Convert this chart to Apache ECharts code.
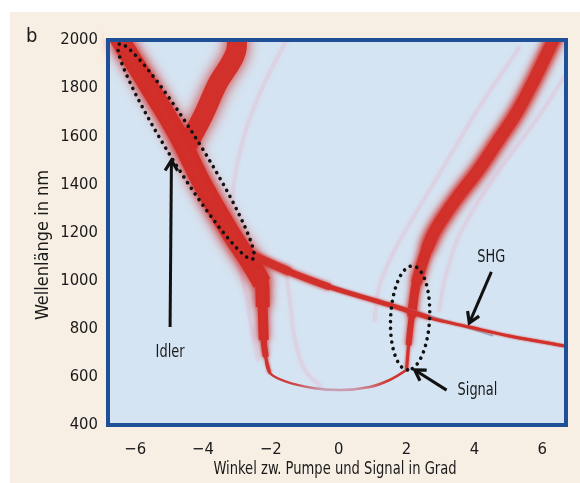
<!DOCTYPE html>
<html><head><meta charset="utf-8">
<script src="https://cdn.jsdelivr.net/npm/echarts@6/dist/echarts.min.js"></script>
<style>html,body{margin:0;padding:0;background:#fff}#c{width:580px;height:483px}</style>
</head><body><div id="c"></div>
<script>
// ---- data ----
const xTicks = [-6, -4, -2, 0, 2, 4, 6];
const yTicks = [400, 600, 800, 1000, 1200, 1400, 1600, 1800, 2000];

// Idler band: main diagonal part, then the vertical branch going down [angle deg, wavelength nm]
const idlerBand = [[-6.5,2012],[-5.62,1813],[-4.74,1605],[-4.0,1397],[-3.15,1190],[-2.62,1077],[-2.26,990],[-2.24,890],[-2.21,753],[-2.15,683],[-2.03,616]];
// Upper idler branch merging into the main one
const idlerUpper = [[-3.0,2042],[-3.0,1979],[-3.59,1813],[-4.03,1676],[-4.38,1584],[-4.56,1543]];
// Bottom loop joining the idler branch to the signal branch
const bottomLoop = [[-2.15,683],[-2.03,616],[-1.53,579],[-0.76,554],[0.03,545],[0.91,558],[1.5,587],[2.0,629]];
// Signal band (right), from bottom upwards
const signalBand = [[2.0,629],[2.06,732],[2.15,849],[2.29,990],[2.59,1127],[2.85,1210],[3.44,1335],[4.12,1460],[4.71,1584],[5.24,1697],[5.76,1834],[6.29,1988],[6.56,2062]];
// Thin crossing branch (idler split -> right edge)
const crossBranch = [[-2.56,1106],[-1.44,1036],[-0.26,973],[1.5,899],[2.68,845],[3.85,807],[5.03,770],[6.68,728],[7.0,720]];
// SHG line (grey)
const shgLine = [[-1.15,1023],[1.0,925],[2.5,862],[4.53,772]];
// Faint ghost curves
const ghostA = [[-1.53,2000],[-2.24,1805],[-2.71,1638],[-3.0,1480],[-3.15,1323],[-3.21,1156]];
const ghostB = [[5.32,1967],[4.15,1722],[3.12,1480],[2.24,1273],[1.65,1127],[1.21,982],[1.06,836]];
const ghostC = [[6.68,1854],[5.82,1667],[4.53,1418],[3.56,1190],[3.12,1003],[2.97,878]];
const ghostD = [[-1.59,1065],[-1.44,919],[-1.29,753],[-1.0,629],[-0.56,566]];
const ghostE = [[-3.06,1127],[-2.76,961],[-2.56,795],[-2.38,670]];

// ---- annotations ----
const labels = [
  {text: 'Idler', at: [-4.97, 703]},
  {text: 'SHG', at: [4.5, 1098]},
  {text: 'Signal', at: [4.09, 545]}
];
const arrows = [
  {from: [-4.97, 807], to: [-4.93, 1500]},
  {from: [4.5, 1036], to: [3.85, 824]},
  {from: [3.18, 545], to: [2.24, 629]}
];
const ellipses = [
  {from: [-6.47, 1983], to: [-2.53, 1090], half: 15.5},
  {from: [2.18, 1061], to: [2.03, 629], half: 19.5}
];

const FONT = "'DejaVu Sans Condensed','DejaVu Sans',sans-serif";
const RED = '#d2302b';
const CREAM = '#f8efe4';

const chart = echarts.init(document.getElementById('c'), null, {renderer: 'canvas'});

function line(data, width, color, blur, z, cap) {
  return {
    type: 'line', data: data, showSymbol: false, symbol: 'none', smooth: 0.35, silent: true,
    z: z || 2, animation: false,
    lineStyle: {width: width, color: color, cap: cap || 'butt', join: 'round',
      shadowBlur: blur || 0, shadowColor: typeof color === 'string' ? color : RED}
  };
}
const GHOST = 'rgba(222,202,222,0.6)';
const loopGrad = new echarts.graphic.LinearGradient(0, 0, 1, 0, [
  {offset: 0, color: RED}, {offset: 0.22, color: '#cf4545'},
  {offset: 0.42, color: 'rgba(196,150,172,0.85)'}, {offset: 0.62, color: 'rgba(200,140,160,0.85)'},
  {offset: 0.85, color: '#cf3b36'}, {offset: 1, color: RED}
]);

const series = [
  line(ghostA, 4, GHOST, 4, 1, 'round'), line(ghostB, 4, GHOST, 4, 1, 'round'), line(ghostC, 4, GHOST, 4, 1, 'round'),
  line(ghostD, 4, GHOST, 4, 1, 'round'), line(ghostE, 4, GHOST, 4, 1, 'round'),
  // upper idler branch
  line(idlerUpper, 20, RED, 14, 2),
  // idler band + vertical branch (tapering)
  line(idlerBand.slice(0, 7), 19, RED, 14, 3), line(idlerBand.slice(0, 8), 14, RED, 11, 3),
  line(idlerBand.slice(0, 9), 10, RED, 8, 3), line(idlerBand.slice(0, 10), 6, RED, 5, 3), line(idlerBand, 3, RED, 3, 3),
  line(bottomLoop, 2.5, loopGrad, 0, 3),
  // signal band (tapering downwards)
  line(signalBand, 3, RED, 3, 3), line(signalBand.slice(1), 6, RED, 5, 3), line(signalBand.slice(2), 9, RED, 7, 3),
  line(signalBand.slice(3), 11, RED, 9, 3), line(signalBand.slice(4), 12, RED, 11, 3),
  // SHG and crossing branch
  line(shgLine, 2, 'rgba(150,165,185,0.85)', 0, 4, 'round'),
  line(crossBranch, 3, RED, 2, 5), line(crossBranch.slice(0, 5), 4.5, RED, 3, 5),
  line(crossBranch.slice(0, 3), 6.5, RED, 4, 5), line(crossBranch.slice(0, 2), 8, RED, 5, 5)
];

chart.setOption({
  backgroundColor: '#ffffff',
  animation: false,
  grid: {left: 108, right: 14, top: 40, bottom: 58, show: true, backgroundColor: '#d5e4f2', borderWidth: 0, z: 0},
  xAxis: {type: 'value', min: -6.8, max: 6.7,
    axisLine: {show: false}, axisTick: {show: false}, splitLine: {show: false},
    axisLabel: {customValues: xTicks, fontSize: 16.5, color: '#1a1a1a', fontFamily: FONT, margin: 16,
      formatter: v => v < 0 ? '\u2212' + Math.abs(v) : String(v)}},
  yAxis: {type: 'value', min: yTicks[0], max: yTicks[yTicks.length - 1], interval: 200,
    axisLine: {show: false}, axisTick: {show: false}, splitLine: {show: false},
    axisLabel: {fontSize: 16.5, color: '#1a1a1a', fontFamily: FONT, margin: 10, formatter: v => String(v)}},
  series: series
});

function px(p) { return chart.convertToPixel({gridIndex: 0}, p); }
const g = [];
g.push({type: 'rect', z: -10, silent: true, shape: {x: 10, y: 12, width: 570, height: 471}, style: {fill: CREAM}});
// cream masks outside the frame (bands are drawn slightly past the plot edge)
g.push({type: 'rect', z: 90, silent: true, shape: {x: 104, y: 12, width: 476, height: 27}, style: {fill: CREAM}});
g.push({type: 'rect', z: 90, silent: true, shape: {x: 567, y: 12, width: 13, height: 471}, style: {fill: CREAM}});
g.push({type: 'rect', z: 90, silent: true, shape: {x: 0, y: 0, width: 580, height: 12}, style: {fill: '#ffffff'}});
g.push({type: 'rect', z: 100, silent: true, shape: {x: 108, y: 40, width: 458, height: 385}, style: {fill: 'none', stroke: '#1f4f97', lineWidth: 4}});
g.push({type: 'text', z: 10, style: {text: 'b', x: 26, y: 47, fontSize: 20, fontFamily: FONT, fill: '#1a1a1a', textVerticalAlign: 'bottom'}});
g.push({type: 'text', z: 10, x: 335, y: 469, scaleX: 0.81, style: {text: 'Winkel zw. Pumpe und Signal in Grad', x: 0, y: 0, fontSize: 18, fontFamily: FONT, fill: '#1a1a1a', textAlign: 'center', textVerticalAlign: 'middle'}});
g.push({type: 'text', z: 10, x: 43, y: 245, rotation: Math.PI / 2, style: {text: 'Wellenlänge in nm', x: 0, y: 0, fontSize: 18, fontFamily: FONT, fill: '#1a1a1a', textAlign: 'center', textVerticalAlign: 'middle'}});

labels.forEach(l => {
  const p = px(l.at);
  g.push({type: 'text', z: 10, x: p[0], y: p[1], scaleX: 0.8, style: {text: l.text, x: 0, y: 0, fontSize: 18, fontFamily: FONT, fill: '#1a1a1a', textAlign: 'center', textVerticalAlign: 'middle'}});
});
arrows.forEach(a => {
  const s = px(a.from), t = px(a.to);
  const ang = Math.atan2(t[1] - s[1], t[0] - s[0]);
  const L = 12, w = 0.55;
  const h1 = [t[0] - L * Math.cos(ang - w), t[1] - L * Math.sin(ang - w)];
  const h2 = [t[0] - L * Math.cos(ang + w), t[1] - L * Math.sin(ang + w)];
  g.push({type: 'line', z: 10, shape: {x1: s[0], y1: s[1], x2: t[0] - 2 * Math.cos(ang), y2: t[1] - 2 * Math.sin(ang)}, style: {stroke: '#111', lineWidth: 3}});
  g.push({type: 'polyline', z: 10, shape: {points: [h1, t, h2]}, style: {stroke: '#111', lineWidth: 3.2, fill: 'none', lineJoin: 'miter'}});
});
ellipses.forEach(e => {
  const a = px(e.from), b = px(e.to);
  const cx = (a[0] + b[0]) / 2, cy = (a[1] + b[1]) / 2;
  const dx = b[0] - a[0], dy = b[1] - a[1];
  const len = Math.hypot(dx, dy), R = len / 2;
  const ux = dx / len, uy = dy / len, vx = -uy, vy = ux;
  const pts = [];
  const N = 200;
  for (let i = 0; i <= N; i++) {
    const t = i / N * Math.PI * 2;
    pts.push([cx + R * Math.cos(t) * ux + e.half * Math.sin(t) * vx, cy + R * Math.cos(t) * uy + e.half * Math.sin(t) * vy]);
  }
  g.push({type: 'polyline', z: 11, shape: {points: pts}, style: {stroke: '#111', lineWidth: 3.6, fill: 'none', lineCap: 'round', lineDash: [0.01, 6.8]}});
});
chart.setOption({graphic: g});
</script></body></html>
